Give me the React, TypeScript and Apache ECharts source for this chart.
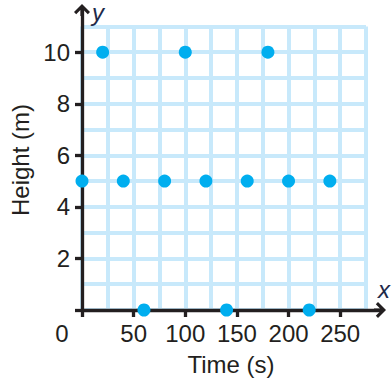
import React, { useEffect, useRef } from "react";
import * as echarts from "echarts";

// ---- data ----
const times: number[] = [0, 20, 40, 60, 80, 100, 120, 140, 160, 180, 200, 220, 240];
const heights: number[] = [5, 10, 5, 0, 5, 10, 5, 0, 5, 10, 5, 0, 5];
const xTickValues: number[] = [0, 50, 100, 150, 200, 250];
const yTickValues: number[] = [2, 4, 6, 8, 10];
const xGridStep = 25;
const yGridStep = 1;
const xGridMax = 275;
const yGridMax = 11;
const xName = "Time (s)";
const yName = "Height (m)";

// ---- layout ----
const W = 392;
const H = 381;
const X0 = 82;
const Y0 = 310;
const PX_X = 284 / 275;
const PX_Y = 25.78;
const X_END = 380;
const Y_END = 10;

const INK = "#231f20";
const GRID_BLUE = "#c8e9fb";
const DOT = "#00aeef";
const FONT = "'Liberation Sans', Arial, sans-serif";

const arrowPath =
  "path://M8,0 L16,8 L13.8,10.2 L9.6,6 L9.6,12 L6.4,12 L6.4,6 L2.2,10.2 L0,8 Z";

export default function App() {
  const ref = useRef<HTMLDivElement>(null);
  useEffect(() => {
    if (!ref.current) return;
    const chart = echarts.init(ref.current, undefined, { renderer: "svg" });
    const mainW = X_END - X0;
    const mainH = Y0 - Y_END;
    const gw = xGridMax * PX_X;
    const gh = yGridMax * PX_Y;
    chart.setOption({
      animation: false,
      backgroundColor: "#ffffff",
      textStyle: { fontFamily: FONT },
      grid: [
        { left: X0, top: Y_END, width: mainW, height: mainH },
        { left: X0, top: Y0 - gh, width: gw, height: gh },
      ],
      xAxis: [
        {
          gridIndex: 0,
          type: "value",
          min: 0,
          max: mainW / PX_X,
          z: 3,
          name: xName,
          nameLocation: "middle",
          nameGap: 42,
          nameTextStyle: { fontSize: 24, color: INK, fontFamily: FONT },
          axisLine: {
            show: true,
            onZero: false,
            symbol: ["none", arrowPath],
            symbolSize: [16, 12],
            lineStyle: { color: INK, width: 3.3 },
          },
          axisTick: {
            show: true,
            length: 7,
            customValues: [0, ...xTickValues.filter((v) => v !== 0)],
            lineStyle: { color: INK, width: 3.3 },
          },
          axisLabel: {
            show: true,
            customValues: xTickValues,
            margin: 11,
            fontSize: 24,
            color: INK,
            fontFamily: FONT,
            formatter: (v: number) => (v === 0 ? "{o|0}" : String(v)),
            rich: {
              o: { padding: [0, 40, 0, 0], fontSize: 24, color: INK, fontFamily: FONT },
            },
          },
          splitLine: { show: false },
        },
        {
          gridIndex: 1,
          type: "value",
          min: 0,
          max: xGridMax,
          interval: xGridStep,
          z: 0,
          axisLine: { show: false },
          axisTick: { show: false },
          axisLabel: { show: false },
          splitLine: { show: true, lineStyle: { color: GRID_BLUE, width: 4 } },
        },
      ],
      yAxis: [
        {
          gridIndex: 0,
          type: "value",
          min: 0,
          max: mainH / PX_Y,
          z: 3,
          name: yName,
          nameLocation: "middle",
          nameGap: 44,
          nameRotate: 90,
          nameTextStyle: { fontSize: 24, color: INK, fontFamily: FONT },
          axisLine: {
            show: true,
            onZero: false,
            symbol: ["none", arrowPath],
            symbolSize: [16, 12],
            lineStyle: { color: INK, width: 3.3 },
          },
          axisTick: {
            show: true,
            length: 7,
            customValues: [0, ...yTickValues],
            lineStyle: { color: INK, width: 3.3 },
          },
          axisLabel: {
            show: true,
            customValues: yTickValues,
            margin: 12,
            fontSize: 24,
            color: INK,
            fontFamily: FONT,
          },
          splitLine: { show: false },
        },
        {
          gridIndex: 1,
          type: "value",
          min: 0,
          max: yGridMax,
          interval: yGridStep,
          z: 0,
          axisLine: { show: false },
          axisTick: { show: false },
          axisLabel: { show: false },
          splitLine: { show: true, lineStyle: { color: GRID_BLUE, width: 4 } },
        },
      ],
      graphic: [
        {
          type: "text",
          left: 378,
          top: 277,
          z: 10,
          style: {
            text: "x",
            fontSize: 24,
            fontStyle: "italic",
            fontFamily: FONT,
            fill: "#1e2a4a",
          },
        },
        {
          type: "text",
          left: 92,
          top: 0,
          z: 10,
          style: {
            text: "y",
            fontSize: 24,
            fontStyle: "italic",
            fontFamily: FONT,
            fill: "#1e2a4a",
          },
        },
      ],
      series: [
        {
          type: "scatter",
          xAxisIndex: 0,
          yAxisIndex: 0,
          z: 5,
          symbol: "circle",
          symbolSize: 13,
          itemStyle: { color: DOT, opacity: 1 },
          data: times.map((t, i) => [t, heights[i]]),
        },
      ],
    });
    return () => chart.dispose();
  }, []);
  return (
    <div
      ref={ref}
      style={{ position: "absolute", left: 0, top: 0, width: W, height: H }}
    />
  );
}
